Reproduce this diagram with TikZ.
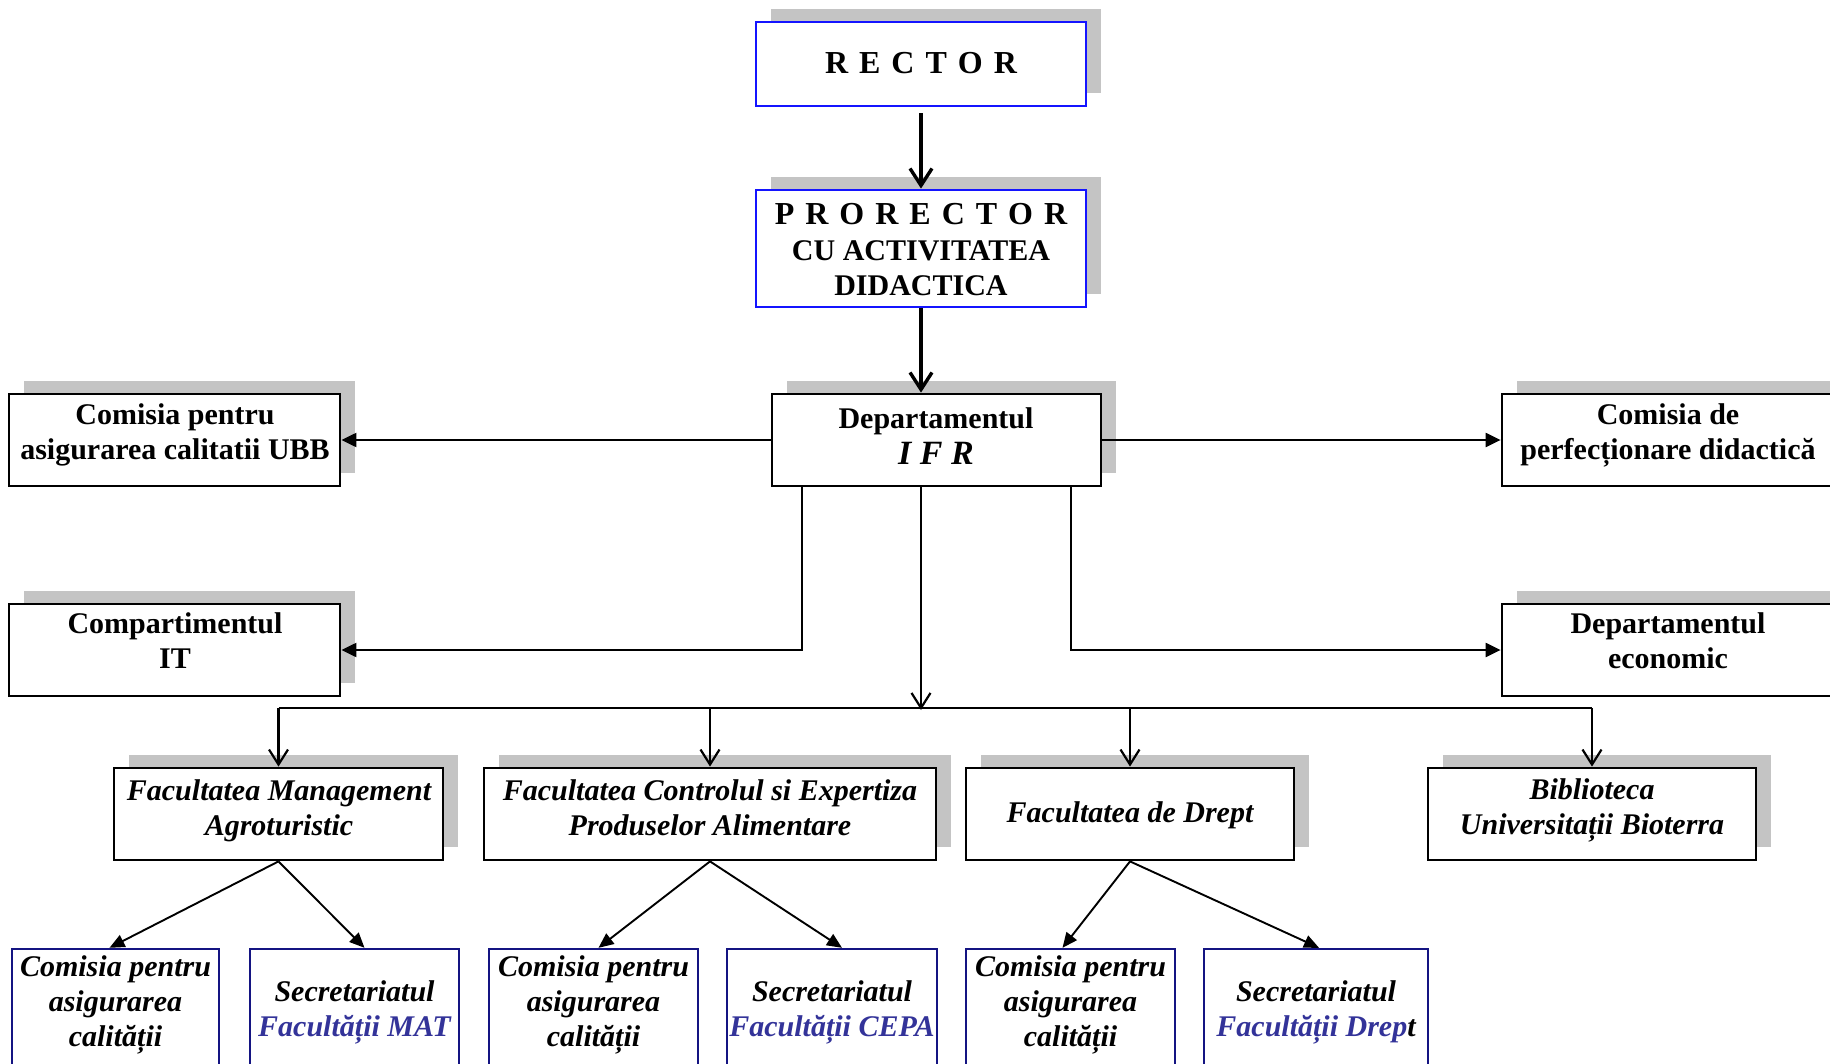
\documentclass[tikz,border=0pt]{standalone}
\usepackage{fontspec}
\setmainfont{Liberation Serif}
\usetikzlibrary{arrows.meta}
\definecolor{shd}{RGB}{196,196,196}
\definecolor{navyb}{RGB}{20,20,130}
\definecolor{bluebox}{RGB}{20,20,255}
\definecolor{sectxt}{RGB}{51,51,153}
\newcommand\shbox[6]{%
  \fill[shd] (#3+15,#4-13) rectangle (#5+15,#6-13);
  \node[#2, minimum width={(#5-#3)*1pt}, minimum height={(#6-#4)*1pt}] (#1) at ({(#3+#5)/2},{(#4+#6)/2}) {};}
\newcommand\plbox[6]{%
  \node[#2, minimum width={(#5-#3)*1pt}, minimum height={(#6-#4)*1pt}] (#1) at ({(#3+#5)/2},{(#4+#6)/2}) {};}
\newcommand\lsp{\hspace{11pt}}
\tikzset{
  boxb/.style={draw=black, line width=2.8pt, fill=white, inner sep=0pt},
  boxbl/.style={draw=bluebox, line width=2.8pt, fill=white, inner sep=0pt},
  boxn/.style={draw=navyb, line width=2.4pt, fill=white, inner sep=0pt},
  txtb/.style={align=center, inner sep=0pt, font=\fontsize{30}{35}\selectfont\bfseries},
  txti/.style={align=center, inner sep=0pt, font=\fontsize{30}{35}\selectfont\bfseries\itshape},
  thickarr/.style={line width=3.4pt, -{Straight Barb[length=17pt,width=22pt]}},
  busarr/.style={line width=2.2pt, -{Straight Barb[length=15pt,width=19pt]}},
  sidearr/.style={line width=2.2pt, -{Triangle[length=15pt,width=14pt]}},
  diagarr/.style={line width=1.9pt, -{Triangle[length=15pt,width=13pt]}},
  conn/.style={line width=2.2pt}
}
\begin{document}
\begin{tikzpicture}[x=1pt,y=-1pt]
\useasboundingbox (0,0) rectangle (1830,1064);
% boxes
\shbox{rector}{boxbl}{756}{22}{1086}{106}
\shbox{prorector}{boxbl}{756}{190}{1086}{307}
\shbox{ifr}{boxb}{772}{394}{1101}{486}
\shbox{ubb}{boxb}{9}{394}{340}{486}
\shbox{it}{boxb}{9}{604}{340}{696}
\shbox{cpd}{boxb}{1502}{394}{1836}{486}
\shbox{econ}{boxb}{1502}{604}{1836}{696}
\shbox{fma}{boxb}{114}{768}{443}{860}
\shbox{fcepa}{boxb}{484}{768}{936}{860}
\shbox{fdr}{boxb}{966}{768}{1294}{860}
\shbox{bib}{boxb}{1428}{768}{1756}{860}
\plbox{c1}{boxn}{12}{949}{219}{1090}
\plbox{s1}{boxn}{250}{949}{459}{1090}
\plbox{c2}{boxn}{489}{949}{698}{1090}
\plbox{s2}{boxn}{727}{949}{937}{1090}
\plbox{c3}{boxn}{966}{949}{1175}{1090}
\plbox{s3}{boxn}{1204}{949}{1428}{1090}
% texts
\node[txtb, font=\fontsize{32}{36}\selectfont\bfseries] (rector-t) at (921,63) {R\lsp E\lsp C\lsp T\lsp O\lsp R};
\node[txtb] (prorector-t) at (921,250) {{\fontsize{32}{36}\selectfont P\lsp R\lsp O\lsp R\lsp E\lsp C\lsp T\lsp O\lsp R}\\[1pt] CU ACTIVITATEA\\ DIDACTICA};
\node[txtb] (ifr-t) at (936,436) {Departamentul\\[1pt] {\fontsize{34}{38}\selectfont\itshape I F R}};
\node[txtb] (ubb-t) at (175,435) {Comisia pentru\\ asigurarea calitatii UBB};
\node[txtb] (it-t) at (175,641) {Compartimentul\\ IT};
\node[txtb] (cpd-t) at (1668,435) {Comisia de\\ perfecționare didactică};
\node[txtb] (econ-t) at (1668,641) {Departamentul\\ economic};
\node[txti] (fma-t) at (279,811) {Facultatea Management\\ Agroturistic};
\node[txti] (fcepa-t) at (710,808) {Facultatea Controlul si Expertiza\\ Produselor Alimentare};
\node[txti] (fdr-t) at (1130,815) {Facultatea de Drept};
\node[txti] (bib-t) at (1592,810) {Biblioteca\\ Universitații Bioterra};
\node[txti] (c1-t) at (115.5,1005) {Comisia pentru\\ asigurarea\\ calității};
\node[txti] (s1-t) at (354.5,1012) {Secretariatul\\ \textcolor{sectxt}{Facultății MAT}};
\node[txti] (c2-t) at (593.5,1005) {Comisia pentru\\ asigurarea\\ calității};
\node[txti] (s2-t) at (832,1012) {Secretariatul\\ \textcolor{sectxt}{Facultății CEPA}};
\node[txti] (c3-t) at (1070.5,1005) {Comisia pentru\\ asigurarea\\ calității};
\node[txti] (s3-t) at (1316,1012) {Secretariatul\\ \textcolor{sectxt}{Facultății Drep}t};
% connectors
\draw[thickarr, shorten <=6pt] (rector.south) -- (prorector.north);
\draw[thickarr] (prorector.south) -- (prorector.south |- ifr.north);
\draw[sidearr] (ifr.west) -- (ubb.east);
\draw[sidearr] (ifr.east) -- (cpd.west);
\coordinate (ifrL) at (802,486);
\coordinate (ifrR) at (1071,486);
\draw[sidearr] (ifrL) |- (it.east);
\draw[sidearr] (ifrR) |- (econ.west);
\coordinate (bus) at (921,708);
\draw[busarr] (ifr.south -| bus) -- ([yshift=-2pt]bus);
\draw[conn] (fma.north |- bus) -- (bib.north |- bus);
\draw[busarr] (fma.north |- bus) -- (fma.north);
\draw[busarr] (fcepa.north |- bus) -- (fcepa.north);
\draw[busarr] (fdr.north |- bus) -- (fdr.north);
\draw[busarr] (bib.north |- bus) -- (bib.north);
\draw[diagarr] (fma.south) -- ([xshift=-6pt]c1.north);
\draw[diagarr] (fma.south) -- ([xshift=10pt]s1.north);
\draw[diagarr] (fcepa.south) -- ([xshift=5pt]c2.north);
\draw[diagarr] (fcepa.south) -- ([xshift=10pt]s2.north);
\draw[diagarr] (fdr.south) -- ([xshift=-8pt]c3.north);
\draw[diagarr] (fdr.south) -- ([xshift=3pt]s3.north);
\end{tikzpicture}
\end{document}
